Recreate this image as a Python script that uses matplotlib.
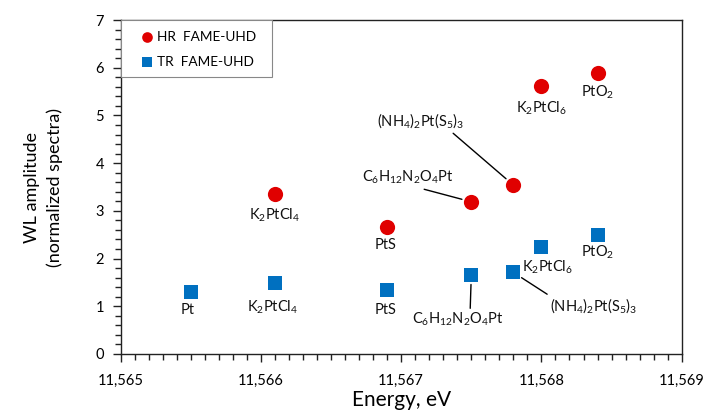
import matplotlib
matplotlib.use("Agg")
import matplotlib.pyplot as plt
from matplotlib.ticker import MultipleLocator, FuncFormatter
from matplotlib.patches import Rectangle

plt.rcParams['font.family'] = ['Lato', 'DejaVu Sans']
plt.rcParams['mathtext.default'] = 'regular'

# Data
hr_names = [r'K$_2$PtCl$_4$', 'PtS', r'C$_6$H$_{12}$N$_2$O$_4$Pt', r'(NH$_4$)$_2$Pt(S$_5$)$_3$',
            r'K$_2$PtCl$_6$', r'PtO$_2$']
hr_energy = [11566.1, 11566.9, 11567.5, 11567.8, 11568.0, 11568.4]
hr_amp = [3.35, 2.66, 3.19, 3.54, 5.62, 5.88]

tr_names = ['Pt', r'K$_2$PtCl$_4$', 'PtS', r'C$_6$H$_{12}$N$_2$O$_4$Pt', r'(NH$_4$)$_2$Pt(S$_5$)$_3$',
            r'K$_2$PtCl$_6$', r'PtO$_2$']
tr_energy = [11565.5, 11566.1, 11566.9, 11567.5, 11567.8, 11568.0, 11568.4]
tr_amp = [1.29, 1.48, 1.35, 1.66, 1.71, 2.24, 2.49]

# label offsets (pixels) and leader-line settings
hr_off = [(0, -21), (-2, -18), (-64, 24), (-93, 64), (0, -22), (0, -19)]
hr_line = [None, None, (0.57, 0.0), (0.865, -0.1), None, None]
tr_off = [(-3, -18), (-2, -24), (-2, -20), (-14, -45), (80, -33), (6, -20), (0, -17)]
tr_line = [None, None, None, (0.64, 1.0), (0.0, 1.0), None, None]

red = '#E00000'
blue = '#0070C0'

fig = plt.figure(figsize=(7.07, 4.11), dpi=100)
ax = fig.add_axes([0.1707, 0.1387, 0.7935, 0.8126])

ax.scatter(hr_energy, hr_amp, s=120, marker='o', color=red, label='HR  FAME-UHD', zorder=3, linewidths=0)
ax.scatter(tr_energy, tr_amp, s=115, marker='s', color=blue, label='TR  FAME-UHD', zorder=3, linewidths=0)

def place(names, xs, ys, offs, lines):
    for n, x, y, o, l in zip(names, xs, ys, offs, lines):
        kw = {}
        if l is not None:
            kw['arrowprops'] = dict(arrowstyle='-', color='black', lw=1.0, shrinkA=0, shrinkB=7, relpos=l)
        ax.annotate(n, (x, y), xytext=o, textcoords='offset pixels', ha='center', va='center',
                    fontsize=10.5, color='#111111', **kw)

place(hr_names, hr_energy, hr_amp, hr_off, hr_line)
place(tr_names, tr_energy, tr_amp, tr_off, tr_line)

ax.set_xlim(11565, 11569)
ax.set_ylim(0, 7)
ax.xaxis.set_major_locator(MultipleLocator(1))
ax.xaxis.set_minor_locator(MultipleLocator(0.1))
ax.yaxis.set_major_locator(MultipleLocator(1))
ax.yaxis.set_minor_locator(MultipleLocator(0.2))
ax.xaxis.set_major_formatter(FuncFormatter(lambda v, p: f'{int(round(v)):,}'))
ax.tick_params(axis='both', which='major', labelsize=10.5, length=6, width=1, direction='out', color='#222222')
ax.tick_params(axis='both', which='minor', length=4, width=1, direction='out', color='#222222')
ax.tick_params(axis='x', which='major', pad=8)
ax.tick_params(axis='y', which='major', pad=6)
for s in ax.spines.values():
    s.set_linewidth(1.0)
    s.set_color('#222222')

ax.set_xlabel('Energy, eV', fontsize=15, labelpad=2)
ax.set_ylabel('WL amplitude\n(normalized spectra)', fontsize=13, labelpad=23.5, linespacing=1.45)

# legend frame (Excel-style box in the upper-left corner)
ax.add_patch(Rectangle((0, 0.829), 0.27, 0.171, transform=ax.transAxes, fill=True,
                       facecolor='white', edgecolor='#888888', linewidth=0.8, zorder=4))
leg = ax.legend(loc='upper left', bbox_to_anchor=(0.034, 0.967), borderaxespad=0, frameon=False,
                fontsize=9.8, markerscale=0.7, handletextpad=0.25, borderpad=0,
                labelspacing=0.95, handlelength=1.0)
leg.set_zorder(5)

fig.savefig('out.png', dpi=100)
